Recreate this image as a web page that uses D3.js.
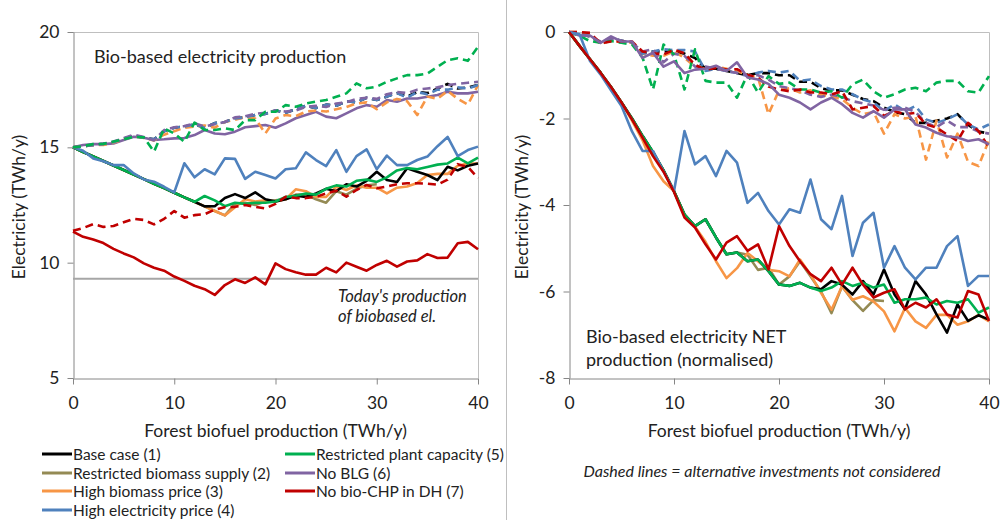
<!DOCTYPE html>
<html>
<head>
<meta charset="utf-8">
<script src="https://cdn.jsdelivr.net/npm/d3@7/dist/d3.min.js"></script>
<style>
  body { margin: 0; background: #fff; }
  svg { display: block; font-family: Lato, "Open Sans", sans-serif; }
</style>
</head>
<body>
<svg id="chart" width="1000" height="520"></svg>
<script>
// forest biofuel production, TWh/y
const xs = [0,1,2,3,4,5,6,7,8,9,10,11,12,13,14,15,16,17,18,19,20,21,22,23,24,25,26,27,28,29,30,31,32,33,34,35,36,37,38,39,40];
const xTicks = [0, 10, 20, 30, 40];
const prodTicks = [5, 10, 15, 20];
const netTicks = [-8, -6, -4, -2, 0];
const todaysProduction = 9.3;

const scenarios = ['Base case (1)', 'Restricted biomass supply (2)', 'High biomass price (3)',
  'High electricity price (4)', 'Restricted plant capacity (5)', 'No BLG (6)', 'No bio-CHP in DH (7)'];

// left panel: bio-based electricity production (TWh/y)
const prodBase = [15.0,14.8,14.61,14.41,14.21,14.02,13.82,13.62,13.42,13.23,13.03,12.83,12.64,12.44,12.45,12.8,12.97,12.8,13.05,12.75,12.65,12.75,12.9,12.85,13.0,13.2,13.1,13.4,13.3,13.55,13.94,13.58,13.5,14.09,13.94,13.8,13.58,14.16,14.0,14.2,14.3];
const prodSupply = [15.0,14.8,14.61,14.41,14.21,14.02,13.82,13.62,13.42,13.23,13.03,12.83,12.64,12.44,12.24,12.05,12.55,12.6,12.5,12.65,12.7,12.75,12.95,12.95,12.75,12.6,13.1,12.95,13.2,13.35,13.4,null,null,null,null,null,null,null,null,null,null];
const prodBioPrice = [15.0,14.8,14.61,14.41,14.21,14.02,13.82,13.62,13.42,13.23,13.03,12.83,12.64,12.44,12.24,12.05,12.4,12.75,12.65,12.7,12.65,12.75,13.18,13.1,12.85,12.85,13.3,13.15,13.35,13.25,13.25,13.0,13.25,13.3,13.45,13.8,13.85,13.85,14.2,14.3,14.3];
const prodElPrice = [15.0,14.85,14.52,14.4,14.23,14.23,13.87,13.61,13.51,13.29,13.05,14.31,13.7,14.05,13.83,14.52,14.5,13.63,13.94,13.8,13.65,14.05,14.09,14.78,14.45,14.19,14.88,13.94,14.62,14.91,14.05,14.64,14.23,14.23,14.45,14.6,15.05,15.45,14.62,14.88,15.03];
const prodCapacity = [15.0,14.8,14.61,14.41,14.21,14.02,13.82,13.62,13.42,13.23,13.03,12.83,12.64,12.89,12.7,12.45,12.6,12.55,12.6,12.6,12.65,12.85,12.9,13.0,12.95,13.2,13.35,13.3,13.55,13.6,13.5,13.7,14.0,14.1,14.05,14.15,14.25,14.3,14.55,14.3,14.55];
const prodNoBlg = [15.0,15.1,15.14,15.14,15.17,15.32,15.46,15.42,15.32,15.35,15.39,15.4,15.53,15.75,15.6,15.57,15.68,15.87,15.92,15.97,15.85,16.04,16.26,16.4,16.54,16.33,16.26,16.47,16.69,16.83,16.76,17.05,16.98,17.12,17.12,17.19,17.27,17.41,17.34,17.34,17.41];
const prodNoChp = [11.35,11.12,11.0,10.85,10.6,10.4,10.23,9.97,9.78,9.65,9.4,9.21,9.0,8.85,8.6,9.03,9.28,9.12,9.36,9.06,9.97,9.72,9.58,9.48,9.48,9.78,9.58,10.0,9.82,9.65,9.9,10.08,9.83,10.05,10.1,10.37,10.2,10.22,10.84,10.9,10.58];
// dashed: alternative investments not considered
const prodBaseAlt = [15.0,15.05,15.1,15.15,15.22,15.38,15.5,15.42,15.35,15.7,15.85,15.9,16.0,15.85,16.05,16.1,16.25,16.3,16.4,16.45,16.6,16.5,16.65,16.8,16.7,16.85,16.8,17.0,16.95,17.15,17.05,17.2,17.35,17.2,17.4,17.35,17.55,17.75,17.55,17.6,17.7];
const prodBioPriceAlt = [15.0,15.05,15.1,15.1,15.2,15.35,15.5,15.4,15.3,15.55,15.7,15.85,15.9,15.95,15.85,16.1,16.2,16.3,16.25,15.6,16.25,16.4,16.35,16.55,16.6,16.55,16.65,16.75,16.9,16.95,16.65,16.95,17.1,17.0,16.4,17.2,17.1,17.45,17.1,16.85,17.7];
const prodElPriceAlt = [15.0,15.05,15.1,15.15,15.22,15.38,15.5,15.42,15.35,15.7,15.85,15.9,16.0,15.85,16.05,16.1,16.25,16.3,16.4,16.45,16.6,16.5,16.65,16.8,16.7,16.85,16.8,17.0,16.95,17.15,17.05,17.2,17.35,17.15,17.4,17.3,17.5,17.5,17.6,17.55,17.7];
const prodCapacityAlt = [15.0,15.05,15.14,15.15,15.25,15.35,15.46,15.43,14.81,15.82,15.6,15.24,16.07,15.75,15.75,15.82,15.75,16.18,16.18,16.54,16.54,16.83,16.76,16.9,16.98,17.05,17.19,17.34,17.77,17.56,17.63,17.84,17.99,18.13,18.13,18.2,18.49,18.78,18.86,18.75,19.36];
const prodNoBlgAlt = [15.0,15.05,15.1,15.15,15.25,15.4,15.55,15.45,15.3,15.75,15.87,15.92,16.04,15.9,16.0,16.1,16.3,16.35,16.45,16.5,16.6,16.55,16.6,16.75,16.8,16.75,16.9,16.95,17.1,17.15,17.1,17.3,17.4,17.35,17.5,17.55,17.6,17.7,17.75,17.8,17.84];
const prodNoChpAlt = [11.38,11.5,11.67,11.55,11.59,11.75,11.9,11.85,11.66,11.9,12.24,11.95,12.06,12.1,12.3,12.4,12.42,12.5,12.42,12.35,12.55,12.86,12.8,12.8,12.85,13.0,13.12,12.86,13.15,13.37,13.23,13.3,13.4,13.44,13.44,13.42,13.38,13.6,14.27,14.15,13.66];

// right panel: bio-based electricity NET production, normalised (TWh/y)
const netBase = [0,-0.32,-0.63,-0.94,-1.27,-1.63,-2.0,-2.4,-2.78,-3.2,-3.68,-4.22,-4.49,-4.33,-4.75,-5.14,-5.1,-5.3,-5.26,-5.53,-5.84,-5.87,-5.8,-5.91,-5.95,-5.76,-5.84,-6.07,-5.76,-6.07,-5.49,-6.07,-6.41,-5.76,-6.07,-6.53,-6.95,-6.3,-6.68,-6.55,-6.65];
const netSupply = [0,-0.32,-0.63,-0.94,-1.27,-1.63,-2.0,-2.4,-2.78,-3.2,-3.68,-4.22,-4.49,-4.33,-4.75,-5.14,-5.1,-5.15,-5.5,-5.45,-5.84,-5.65,-5.3,-5.65,-6.0,-6.5,-5.88,-6.2,-6.45,-6.2,-6.22,null,null,null,null,null,null,null,null,null,null];
const netBioPrice = [0,-0.32,-0.63,-0.94,-1.27,-1.63,-2.05,-2.5,-3.1,-3.45,-3.68,-4.25,-4.5,-4.85,-5.3,-5.69,-5.46,-5.11,-5.3,-5.5,-5.53,-5.65,-5.26,-5.61,-6.03,-6.42,-5.88,-6.19,-6.11,-6.23,-6.46,-6.92,-6.38,-6.69,-6.84,-6.54,-6.54,-6.77,-6.69,-6.54,-6.69];
const netElPrice = [0,-0.05,-0.67,-0.98,-1.35,-1.71,-2.3,-2.75,-2.75,-3.22,-3.68,-2.29,-3.06,-2.87,-3.33,-2.75,-3.02,-3.95,-3.72,-4.14,-4.45,-4.1,-4.18,-3.41,-4.33,-4.56,-3.79,-5.18,-4.41,-4.18,-5.45,-4.95,-5.45,-5.72,-5.45,-5.45,-4.95,-4.72,-5.87,-5.64,-5.64];
const netCapacity = [0,-0.32,-0.63,-0.94,-1.27,-1.63,-2.0,-2.4,-2.78,-3.2,-3.68,-4.22,-4.49,-4.33,-4.75,-5.14,-5.1,-5.3,-5.26,-5.53,-5.84,-5.87,-5.8,-5.91,-5.99,-5.91,-5.76,-5.87,-5.8,-5.91,-5.84,-6.26,-6.18,-6.18,-6.14,-6.3,-6.22,-6.26,-6.18,-6.49,-6.37];
const netNoBlg = [0,-0.08,-0.08,-0.25,-0.1,-0.22,-0.22,-0.6,-0.48,-0.8,-0.68,-0.95,-0.87,-0.85,-0.78,-0.9,-0.7,-1.05,-1.1,-1.2,-1.45,-1.52,-1.63,-1.79,-1.63,-1.52,-1.67,-1.87,-1.98,-1.83,-1.98,-1.79,-1.79,-2.14,-2.21,-2.33,-2.41,-2.44,-2.52,-2.48,-2.6];
const netNoChp = [0,-0.32,-0.63,-0.94,-1.27,-1.63,-2.02,-2.44,-2.87,-3.23,-3.7,-4.29,-4.52,-4.91,-5.26,-4.87,-4.72,-5.06,-4.91,-5.49,-4.49,-4.95,-5.3,-5.6,-5.76,-5.45,-5.84,-5.45,-5.84,-6.14,-6.03,-5.95,-6.41,-6.26,-6.37,-6.18,-6.53,-6.6,-5.99,-6.07,-6.68];
const netBaseAlt = [0,-0.05,-0.1,-0.25,-0.15,-0.2,-0.25,-0.5,-0.45,-0.45,-0.45,-0.5,-0.6,-0.85,-0.85,-0.9,-0.95,-1.0,-0.95,-0.95,-1.0,-1.0,-1.15,-1.15,-1.3,-1.35,-1.35,-1.45,-1.55,-1.6,-1.75,-1.85,-1.9,-2.1,-2.1,-2.05,-2.0,-1.9,-2.15,-2.3,-2.35];
const netBioPriceAlt = [0,0,-0.05,-0.28,-0.2,-0.22,-0.25,-0.5,-0.55,-0.55,-0.45,-0.6,-0.8,-0.85,-0.8,-0.85,-0.9,-1.0,-1.05,-1.9,-1.35,-1.3,-1.4,-1.35,-1.45,-1.5,-1.55,-1.75,-1.9,-1.85,-2.35,-1.9,-2.0,-1.95,-2.95,-2.05,-2.9,-2.35,-3.0,-3.1,-2.5];
const netElPriceAlt = [0,-0.05,-0.1,-0.25,-0.15,-0.2,-0.25,-0.5,-0.45,-0.4,-0.42,-0.42,-0.45,-0.9,-0.85,-0.9,-0.95,-1.02,-0.94,-0.9,-0.94,-0.9,-1.13,-1.1,-1.25,-1.33,-1.33,-1.44,-1.56,-1.63,-1.83,-1.67,-1.83,-1.71,-2.02,-2.1,-2.02,-1.9,-2.14,-2.25,-2.14];
const netCapacityAlt = [0,-0.09,-0.21,-0.25,-0.21,-0.25,-0.29,-0.59,-1.33,-0.29,-0.52,-1.33,-0.4,-1.13,-1.17,-1.17,-1.52,-0.98,-1.4,-1.02,-1.2,-1.17,-1.33,-1.33,-1.4,-1.37,-1.52,-1.21,-1.1,-1.37,-1.52,-1.44,-1.33,-1.29,-1.37,-1.17,-1.13,-1.13,-1.37,-1.4,-1.02];
const netNoBlgAlt = [0,-0.05,-0.1,-0.22,-0.15,-0.2,-0.25,-0.45,-0.4,-0.7,-0.5,-0.55,-0.8,-0.8,-0.85,-0.9,-0.95,-1.0,-1.0,-1.1,-1.25,-1.3,-1.35,-1.45,-1.5,-1.45,-1.5,-1.6,-1.65,-1.7,-1.8,-1.75,-1.75,-1.85,-2.1,-2.2,-2.05,-2.2,-2.2,-2.3,-2.35];
const netNoChpAlt = [0,0,-0.02,-0.26,-0.22,-0.22,-0.22,-0.45,-0.49,-0.52,-0.41,-0.49,-0.76,-0.87,-0.83,-0.87,-0.86,-0.99,-1.06,-1.26,-1.33,-1.37,-1.33,-1.4,-1.4,-1.44,-1.37,-1.79,-1.75,-1.71,-1.94,-1.83,-1.9,-1.87,-2.14,-2.21,-2.37,-2.52,-2.1,-2.29,-2.67];

const colors = ['#000000', '#948a54', '#f79646', '#4f81bd', '#00b050', '#8064a2', '#c00000'];

const svg = d3.select('#chart');

// thin separator between the two panels
svg.append('line').attr('x1', 506.5).attr('x2', 506.5).attr('y1', 0).attr('y2', 520)
  .attr('stroke', '#bfbfbf').attr('stroke-width', 1);

function drawPanel(p) {
  const x = d3.scaleLinear().domain([0, 40]).range([p.left, p.right]);
  const y = d3.scaleLinear().domain(p.yDomain).range([p.bottom, p.top]);
  const g = svg.append('g');

  // plot area border (top and right)
  g.append('path')
    .attr('d', `M${p.left},${p.top + 0.5}H${p.right + 0.5}V${p.bottom}`)
    .attr('fill', 'none').attr('stroke', '#bfbfbf');

  const xAxis = g.append('g').attr('transform', `translate(0,${p.bottom + 0.5})`)
    .call(d3.axisBottom(x).tickValues(xTicks).tickSize(6).tickPadding(12).tickSizeOuter(0));
  const yAxis = g.append('g').attr('transform', `translate(${p.left + 0.5},0)`)
    .call(d3.axisLeft(y).tickValues(p.yTicks).tickSize(6).tickPadding(8).tickSizeOuter(0)
      .tickFormat(d => String(d)));
  [xAxis, yAxis].forEach(a => {
    a.select('.domain').attr('stroke', '#868686');
    a.selectAll('.tick line').attr('stroke', '#868686');
    a.selectAll('.tick text').attr('fill', '#222').style('font-size', '17.5px')
      .style('font-family', 'Lato, sans-serif');
  });

  if (p.reference != null) {
    g.append('line')
      .attr('x1', x(0)).attr('x2', x(40))
      .attr('y1', y(p.reference)).attr('y2', y(p.reference))
      .attr('stroke', '#a6a6a6').attr('stroke-width', 2);
  }

  const line = d3.line()
    .defined(d => d[1] != null)
    .x(d => x(d[0]))
    .y(d => y(d[1]));

  p.series.forEach(s => {
    g.append('path')
      .datum(xs.map((v, i) => [v, s.values[i]]))
      .attr('fill', 'none')
      .attr('stroke', colors[s.idx])
      .attr('stroke-width', 2.6)
      .attr('stroke-linejoin', 'round')
      .attr('stroke-dasharray', s.dashed ? '8,5' : null)
      .attr('d', line);
  });

  // axis titles
  g.append('text')
    .attr('x', (p.left + p.right) / 2).attr('y', 437)
    .attr('text-anchor', 'middle').style('font-size', '17.5px').attr('fill', '#222')
    .text('Forest biofuel production (TWh/y)');
  g.append('text')
    .attr('transform', `translate(${p.titleX},207) rotate(-90)`)
    .attr('text-anchor', 'middle').style('font-size', '17.5px').attr('fill', '#222')
    .text('Electricity (TWh/y)');

  // panel label
  p.label.forEach((t, i) => {
    g.append('text')
      .attr('x', p.labelX).attr('y', p.labelY + i * 23)
      .style('font-size', '18px').attr('fill', '#222')
      .text(t);
  });
}

drawPanel({
  left: 73, right: 478, top: 32, bottom: 378,
  yDomain: [5, 20], yTicks: prodTicks, titleX: 25,
  reference: todaysProduction,
  label: ['Bio-based electricity production'], labelX: 94, labelY: 63,
  series: [
    { idx: 1, values: prodSupply }, { idx: 2, values: prodBioPrice }, { idx: 0, values: prodBase },
    { idx: 4, values: prodCapacity }, { idx: 3, values: prodElPrice }, { idx: 5, values: prodNoBlg },
    { idx: 6, values: prodNoChp },
    { idx: 0, values: prodBaseAlt, dashed: true }, { idx: 2, values: prodBioPriceAlt, dashed: true },
    { idx: 3, values: prodElPriceAlt, dashed: true }, { idx: 5, values: prodNoBlgAlt, dashed: true },
    { idx: 4, values: prodCapacityAlt, dashed: true }, { idx: 6, values: prodNoChpAlt, dashed: true }
  ]
});

drawPanel({
  left: 569, right: 989, top: 32, bottom: 378,
  yDomain: [-8, 0], yTicks: netTicks, titleX: 528,
  reference: null,
  label: ['Bio-based electricity NET', 'production (normalised)'], labelX: 586, labelY: 343,
  series: [
    { idx: 0, values: netBaseAlt, dashed: true }, { idx: 2, values: netBioPriceAlt, dashed: true },
    { idx: 3, values: netElPriceAlt, dashed: true }, { idx: 5, values: netNoBlgAlt, dashed: true },
    { idx: 4, values: netCapacityAlt, dashed: true }, { idx: 6, values: netNoChpAlt, dashed: true },
    { idx: 5, values: netNoBlg },
    { idx: 1, values: netSupply }, { idx: 2, values: netBioPrice }, { idx: 0, values: netBase },
    { idx: 4, values: netCapacity }, { idx: 3, values: netElPrice }, { idx: 6, values: netNoChp }
  ]
});

// today's production note
svg.append('text').attr('x', 338).attr('y', 302)
  .style('font-size', '16.5px').style('font-style', 'italic').attr('fill', '#222')
  .text("Today's production");
svg.append('text').attr('x', 338).attr('y', 322)
  .style('font-size', '16.5px').style('font-style', 'italic').attr('fill', '#222')
  .text('of biobased el.');

// legend
const legendRows = [454, 473, 491, 510];
const legend = svg.append('g');
scenarios.forEach((name, i) => {
  const col = i < 4 ? 0 : 1;
  const row = i < 4 ? i : i - 4;
  const lx = col === 0 ? 42 : 285;
  const ly = legendRows[row];
  legend.append('line').attr('x1', lx).attr('x2', lx + 30).attr('y1', ly).attr('y2', ly)
    .attr('stroke', colors[i]).attr('stroke-width', 3);
  legend.append('text').attr('x', lx + 31).attr('y', ly)
    .attr('dominant-baseline', 'central')
    .style('font-size', '15.5px').attr('fill', '#222')
    .text(name);
});

svg.append('text').attr('x', 762).attr('y', 477)
  .attr('text-anchor', 'middle')
  .style('font-size', '16px').style('font-style', 'italic').attr('fill', '#222')
  .text('Dashed lines = alternative investments not considered');
</script>
</body>
</html>
